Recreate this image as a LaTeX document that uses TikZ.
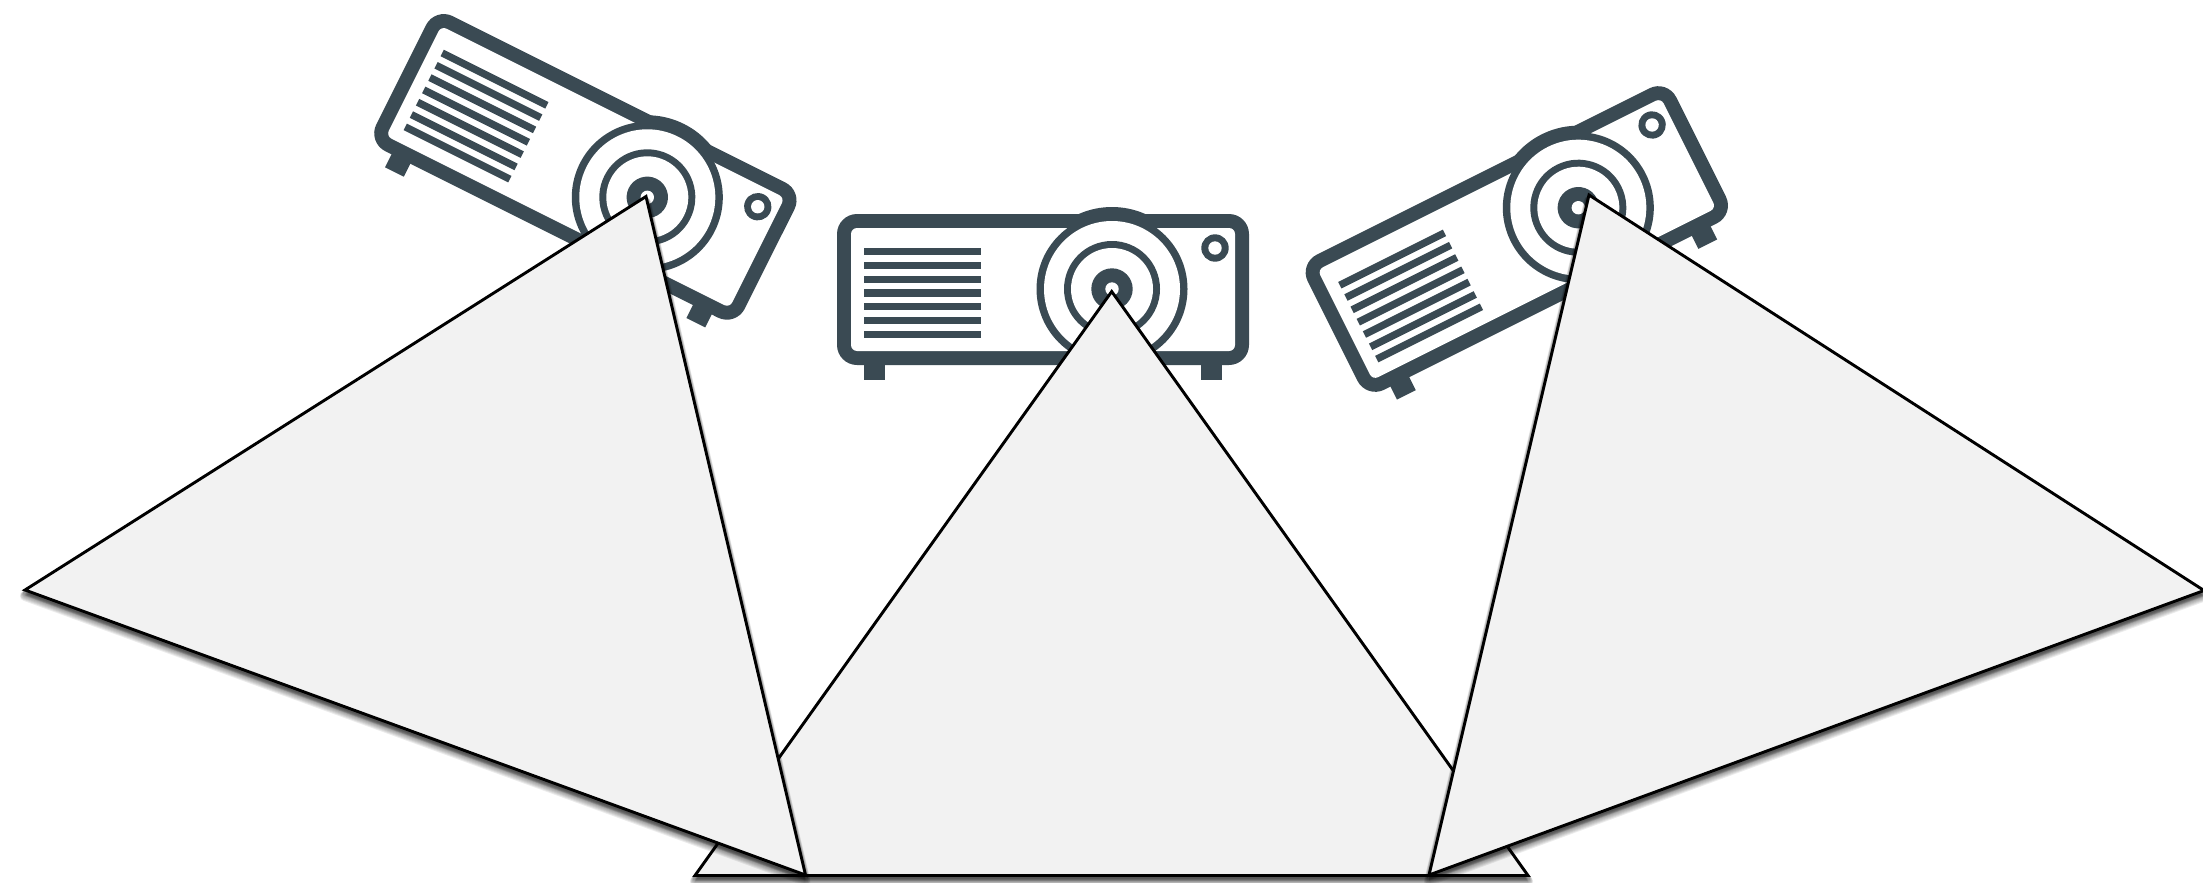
\documentclass[tikz,border=0pt]{standalone}
\definecolor{projdark}{HTML}{3A4A53}
\definecolor{screenfill}{HTML}{F2F2F2}
\tikzset{
  projector/.pic={
    \fill[projdark] (-248,70) rectangle (-227,90.5);
    \fill[projdark] (89,70) rectangle (110,90.5);
    \begin{scope}
      \clip (-275,-90) rectangle (137,-60);
      \fill[projdark] (0,0) circle[radius=82pt];
    \end{scope}
    \fill[projdark,rounded corners=20pt] (-275,-75) rectangle (137,76);
    \fill[white,rounded corners=6pt] (-261,-61) rectangle (123,62);
    \fill[projdark] (0,0) circle[radius=75.5pt];
    \fill[white] (0,0) circle[radius=68pt];
    \fill[projdark] (0,0) circle[radius=48pt];
    \fill[white] (0,0) circle[radius=41pt];
    \fill[projdark] (0,0) circle[radius=20.7pt];
    \fill[white] (0,0) circle[radius=6.7pt];
    \fill[projdark] (103,-41) circle[radius=13.7pt];
    \fill[white] (103,-41) circle[radius=6.7pt];
    \foreach \k in {0,...,6}{
      \fill[projdark] (-248,-41+13.77*\k) rectangle (-131,-33.7+13.77*\k);
    }
  },
  screenedge/.style={draw=black,line width=2.9pt,line join=miter,fill=screenfill},
  softshadow/.style={draw=black,fill=black,line join=round,opacity=.075},
}
\newcommand{\shadowed}[3]{%
  \foreach \w/\d in {10/6,9/5.5,8/5,7/4.5,6/4,5/3.5,4/3}{
    \path[softshadow,line width=\w pt] ([yshift=-\d pt]#1) -- ([yshift=-\d pt]#2) -- ([yshift=-\d pt]#3) -- cycle;
  }
  \path[screenedge] (#1) -- (#2) -- (#3) -- cycle;
}
\begin{document}
\begin{tikzpicture}[x=1pt,y=-1pt]
  \useasboundingbox (0,0) rectangle (2203,883);
  \pic[rotate=-26.57] at (647.3,197.3) {projector};
  \pic at (1112,289) {projector};
  \pic[rotate=26.57] at (1578.3,207.7) {projector};
  \coordinate (midapex) at (1111.7,291.5);
  \coordinate (midleft) at (695,875.5);
  \coordinate (midright) at (1528,875.5);
  \coordinate (leftapex) at (646,196.5);
  \coordinate (leftfar) at (25,590);
  \coordinate (leftbase) at (805.5,875);
  \coordinate (rightapex) at (1589,195);
  \coordinate (rightfar) at (2204,590.5);
  \coordinate (rightbase) at (1429,875);
  \shadowed{midapex}{midleft}{midright}
  \shadowed{leftapex}{leftfar}{leftbase}
  \shadowed{rightapex}{rightbase}{rightfar}
\end{tikzpicture}
\end{document}
